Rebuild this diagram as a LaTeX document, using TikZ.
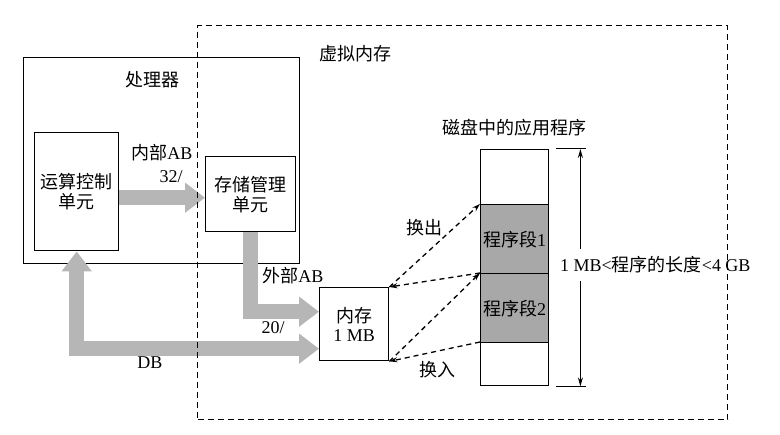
\documentclass[tikz,border=0pt]{standalone}
\usepackage{fontspec}
\setmainfont{Liberation Serif}
\newfontfamily\cjk{Noto Sans CJK SC}
\usetikzlibrary{arrows.meta}
\newcommand{\zh}[1]{{\cjk #1}}
\definecolor{busgray}{RGB}{182,182,182}
\definecolor{seggray}{RGB}{168,168,168}

\begin{document}
\begin{tikzpicture}[x=1pt,y=-1pt,
    font=\fontsize{18}{21}\selectfont,
    box/.style={draw,line width=1.4pt,inner sep=0pt,anchor=north west,align=center},
    bus/.style={busgray,line width=15pt,-{Triangle[length=20pt,width=29pt]}},
    dbus/.style={busgray,line width=15pt,{Triangle[length=20pt,width=29pt]}-{Triangle[length=20pt,width=29pt]}},
    swap/.style={line width=1.3pt,dash pattern=on 5pt off 4pt,-{Stealth[length=8pt,width=5pt]}},
    dim/.style={line width=1pt,{Stealth[length=9pt,width=5pt]}-{Stealth[length=9pt,width=5pt]}}]
    % \draw[help lines] (0,0) grid[step=50] (780,435);
    \useasboundingbox (0,0) rectangle (780,435);

    % processor side
    \node[box,minimum width=276pt,minimum height=206pt] (proc) at (23,57) {};
    \node (proclabel) at (152,80) {\zh{处理器}};
    \node[box,minimum width=84pt,minimum height=118pt] (ctrl) at (34,132) {\zh{运算控制}\\[-1pt]\zh{单元}};
    \node[box,minimum width=90pt,minimum height=75pt] (mmu) at (205,156) {\zh{存储管理}\\[-1pt]\zh{单元}};
    \node[box,minimum width=69pt,minimum height=73pt,fill=white] (mem) at (319,287) {\zh{内存}\\[-2pt]1 MB};

    \node (iablabel) at (162,153) {\zh{内部}AB};
    \node (iabwidth) at (171,177) {32/};
    \node (eablabel) at (293,276) {\zh{外部}AB};
    \node (eabwidth) at (273,328) {20/};
    \node (dblabel) at (150,363) {DB};

    % buses
    \coordinate (iab) at ([yshift=-3.5pt]mmu.west);
    \draw[bus] (ctrl.east |- iab) -- (iab);
    \draw[bus] (mmu.south) |- ([yshift=12.5pt]mem.west);
    \draw[dbus] (ctrl.south) |- ([yshift=-24.5pt]mem.west);

    % disk
    \node (disklabel) at (514,128) {\zh{磁盘中的应用程序}};
    \node[box,minimum width=68pt,minimum height=55pt] (seg0) at (480,149) {};
    \node[box,minimum width=68pt,minimum height=69pt,fill=seggray] (seg1) at (480,204) {\zh{程序段}1};
    \node[box,minimum width=68pt,minimum height=69pt,fill=seggray] (seg2) at (480,273) {\zh{程序段}2};
    \node[box,minimum width=68pt,minimum height=43pt] (seg3) at (480,342) {};

    % swapping
    \draw[swap] (mem.north east) -- (seg1.north west);
    \draw[swap] (seg2.north west) -- (mem.north east);
    \draw[swap] (mem.south east) -- (seg2.north west);
    \draw[swap] (seg3.north west) -- (mem.south east);
    \node (outlabel) at (424,228) {\zh{换出}};
    \node (inlabel) at (437,370) {\zh{换入}};

    % program length
    \coordinate (dtop) at ([xshift=31pt]seg0.north east);
    \coordinate (dbot) at ([xshift=31pt]seg3.south east);
    \draw[line width=1pt] ([xshift=7pt]seg0.north east) -- ([xshift=37pt]seg0.north east);
    \draw[line width=1pt] ([xshift=7pt]seg3.south east) -- ([xshift=37pt]seg3.south east);
    \draw[dim] (dtop) -- (dbot);
    \node[fill=white,anchor=west,inner xsep=2pt,inner ysep=8pt] (length) at (558,265) {1 MB<\zh{程序的长度}<4 GB};

    % virtual memory
    \node[draw,line width=1.2pt,dash pattern=on 6pt off 4pt,anchor=north west,
        minimum width=530pt,minimum height=394pt] (vm) at (197,25) {};
    \node (vmlabel) at (355,54) {\zh{虚拟内存}};
\end{tikzpicture}
\end{document}
